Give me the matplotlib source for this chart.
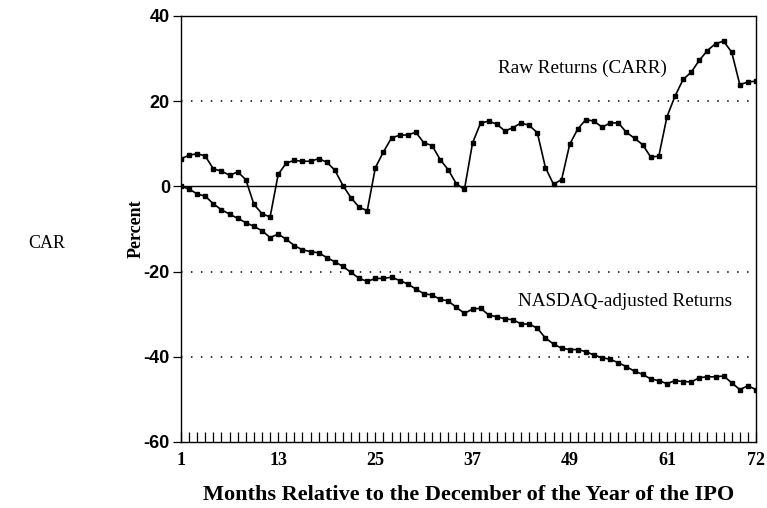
import matplotlib
matplotlib.use("Agg")
import matplotlib.pyplot as plt
import numpy as np

months = list(range(1, 73))
raw_returns = [6.5, 7.3, 7.7, 7.1, 4.1, 3.6, 2.6, 3.4, 1.6, -4.2, -6.4, -7.2,
               2.8, 5.5, 6.1, 5.9, 5.9, 6.5, 5.7, 3.8, 0.2, -2.7, -4.9, -5.7,
               4.4, 8.1, 11.4, 12.0, 12.1, 12.7, 10.2, 9.6, 6.3, 3.9, 0.6, -0.7,
               10.2, 14.9, 15.3, 14.6, 13.0, 13.8, 14.9, 14.3, 12.6, 4.4, 0.5, 1.6,
               9.9, 13.5, 15.7, 15.3, 13.9, 14.9, 14.9, 12.7, 11.3, 9.8, 6.9, 7.1,
               16.3, 21.2, 25.1, 26.8, 29.6, 31.9, 33.5, 34.1, 31.5, 23.9, 24.5, 24.7]
nasdaq_adj = [0.0, -0.6, -1.8, -2.3, -4.1, -5.5, -6.5, -7.5, -8.5, -9.4, -10.4, -12.0,
              -11.2, -12.4, -13.9, -14.9, -15.3, -15.6, -16.7, -17.7, -18.8, -20.2, -21.6, -22.3,
              -21.6, -21.6, -21.3, -22.1, -22.9, -24.1, -25.2, -25.5, -26.5, -26.9, -28.4, -29.8,
              -28.8, -28.6, -30.2, -30.6, -31.1, -31.3, -32.3, -32.3, -33.3, -35.6, -37.0, -38.0,
              -38.3, -38.3, -38.8, -39.6, -40.2, -40.6, -41.4, -42.3, -43.4, -44.1, -45.2, -45.6,
              -46.3, -45.6, -45.8, -45.9, -44.9, -44.7, -44.7, -44.5, -46.1, -47.7, -46.8, -47.7]
x_tick_labels = [1, 13, 25, 37, 49, 61, 72]
y_ticks = [-60, -40, -20, 0, 20, 40]
grid_levels = [20, -20, -40]

serif = ["Liberation Serif", "DejaVu Serif"]
plt.rcParams['font.family'] = serif

fig = plt.figure(figsize=(7.67, 5.08), dpi=100)
ax = fig.add_axes([181/767, 1-442/508, (756-181)/767, (442-16)/508])

for lvl in grid_levels:
    ax.axhline(lvl, color="black", lw=1.1, linestyle=(0, (1, 5.5)), zorder=1)
ax.axhline(0, color="black", lw=1.0, zorder=1)

ax.plot(months, raw_returns, color="black", lw=1.2, marker="s", ms=3.4, zorder=3)
ax.plot(months, nasdaq_adj, color="black", lw=1.2, marker="s", ms=3.4, zorder=3)

ax.set_xlim(1, 72)
ax.set_ylim(-60, 40)
ax.set_xticks(x_tick_labels)
ax.set_xticklabels([str(v) for v in x_tick_labels], fontsize=13, fontweight="bold")
ax.set_xticks(months, minor=True)
ax.tick_params(axis="x", which="both", direction="in", length=7, width=0.9,
               pad=7, top=False)
ax.set_yticks(y_ticks)
ax.set_yticklabels([str(v) for v in y_ticks], fontsize=13, fontweight="bold",
                   family=["Liberation Sans Narrow", "Liberation Sans", "DejaVu Sans"])
ax.tick_params(axis="y", direction="out", length=6, width=0.9, pad=2)

for sp in ax.spines.values():
    sp.set_linewidth(1.0)

ax.set_ylabel("Percent", fontsize=13, fontweight="bold")
ax.yaxis.set_label_coords((145 - 181) / (756 - 181), 0.5)
ax.set_xlabel("Months Relative to the December of the Year of the IPO",
              fontsize=16, fontweight="bold", labelpad=12)

ax.text(40.2, 27.7, "Raw Returns (CARR)", fontsize=13.8, va="center", ha="left")
ax.text(42.6, -27.0, "NASDAQ-adjusted Returns", fontsize=13.8, va="center", ha="left")

fig.text(47/767, 1-243/508, "CAR", fontsize=13, ha="center", va="center")

fig.savefig("out.png", dpi=100)
